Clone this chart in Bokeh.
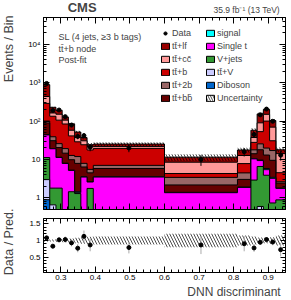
import numpy as np
from bokeh.plotting import figure
from bokeh.layouts import column, row
from bokeh.models import (ColumnDataSource, Label, Legend, LegendItem, FixedTicker,
                          LinearAxis, LogAxis, CustomJSTickFormatter, Range1d)
from bokeh.embed import file_html
from bokeh.resources import INLINE

# ---------------- data ----------------
edges = [0.25, 0.268, 0.286, 0.304, 0.322, 0.340, 0.358, 0.376, 0.394, 0.6,
         0.811, 0.85, 0.868, 0.886, 0.904, 0.922, 0.95]

diboson  = [0.9, 0.05, 0.05, 0.01, 0.02, 0.02, 0.01, 0.01, 0.01, 0.01, 0.01, 0.02, 0.03, 0.02, 0.01, 0.01]
ttv      = [2.1, 0.61, 0.05, 0.01, 0.03, 0.03, 0.01, 0.02, 0.01, 0.01, 0.01, 0.3, 0.57, 0.28, 0.02, 0.02]
vjets    = [8.3, 1.14, 1.7, 0.02, 1.4, 1.25, 0.02, 1.74, 0.03, 0.02, 0.03, 2.6, 6.0, 3.6, 0.71, 0.86]
single_t = [32.4, 17.3, 9.5, 7.86, 3.75, 0.07, 3.46, 0.83, 3.45, 1.33, 1.83, 7.5, 2.8, 1.55, 2.5, 0.88]
signal   = [0.6, 0.25, 0.2, 0.15, 0.1, 0.08, 0.06, 0.05, 0.05, 0.03, 0.04, 0.15, 0.3, 0.4, 0.2, 0.04]
ttbb     = [45.3, 11.6, 9.0, 6.6, 4.6, 6.5, 2.85, 1.85, 2.3, 0.78, 1.12, 3.6, 8.3, 7.25, 6.1, 0.63]
tt2b     = [11.0, 8.2, 5.4, 4.6, 2.9, 4.0, 1.55, 1.05, 1.2, 1.25, 1.45, 3.7, 7.6, 6.8, 7.6, 0.2]
ttb      = [189.0, 95.0, 80.3, 65.0, 28.5, 17.0, 16.3, 12.2, 12.5, 0.9, 3.35, 10.1, 27.7, 80.5, 13.7, 1.9]
ttcc     = [148.0, 29.0, 45.0, 22.0, 16.6, 8.4, 6.5, 3.8, 2.4, 4.2, 4.9, 9.5, 37.0, 50.0, 39.0, 9.7]
ttlf     = [452.0, 66.0, 40.0, 21.0, 27.2, 14.7, 6.6, 2.7, 3.4, 3.0, 5.0, 20.5, 64.0, 50.0, 34.0, 3.7]
data     = [960, 190, 195, 131, 79, 40, 42, 21, 20, 10, 16, 45, 146, 206, 99, 13]
rel_unc  = [0.03, 0.03, 0.04, 0.05, 0.06, 0.08, 0.10, 0.11, 0.12, 0.20, 0.15, 0.12, 0.09, 0.08, 0.10, 0.15]

x_ticks = [0.3, 0.4, 0.5, 0.6, 0.7, 0.8, 0.9]
ratio_ticks = [0.5, 1.0, 1.5]

layers = [
    ("Diboson", diboson, "#0066cc"),
    ("tt\u0304+V", ttv, "#ccccff"),
    ("V+jets", vjets, "#339933"),
    ("Single t", single_t, "#ff00ff"),
    ("signal", signal, "#00ffff"),
    ("tt\u0304+bb\u0304", ttbb, "#660000"),
    ("tt\u0304+2b", tt2b, "#996666"),
    ("tt\u0304+b", ttb, "#cc0000"),
    ("tt\u0304+cc\u0304", ttcc, "#ff9999"),
    ("tt\u0304+lf", ttlf, "#990000"),
]

# ---------------- geometry ----------------
FONT = "Liberation Sans"
X0, X1 = 0.25, 0.95
Y0, Y1 = 0.5, 5e4
R0, R1 = 0.04, 1.66
W, H = 291, 300
SW = 16                       # left strip width (axis titles)
HH = 15                       # header strip height
P1T = 2                       # main panel top border
P2B = 11                      # ratio panel bottom border
FW, MH, RH = 242, 192, 54     # frame width, main frame h, ratio frame h

e = np.array(edges)
centers = (e[:-1] + e[1:]) / 2
cum = np.cumsum(np.array([np.array(v, dtype=float) for _, v, _ in layers]), axis=0)
total = cum[-1]
d = np.array(data, dtype=float)
u = np.array(rel_unc)


def strip(width, height, xr, yr):
    s = figure(width=width, height=height, x_range=Range1d(*xr), y_range=Range1d(*yr),
               title=None, min_border=0, x_axis_location=None, y_axis_location=None,
               output_backend="svg", toolbar_location=None)
    s.outline_line_color = None
    s.grid.visible = False
    return s


# ---------------- main panel ----------------
p1 = figure(x_range=Range1d(X0, X1), y_range=Range1d(Y0, Y1), y_axis_type="log",
            title=None, frame_width=FW, frame_height=MH, min_border_left=27,
            min_border_right=6, min_border_top=P1T, min_border_bottom=4,
            output_backend="svg", toolbar_location=None, background_fill_color="white")
p1.grid.visible = False
p1.outline_line_color = "black"

floor = [1e-3] * len(edges)
for i in reversed(range(len(layers))):
    vals = cum[i]
    top = list(vals) + [vals[-1]]
    p1.varea_step(x=edges, y1=floor, y2=top, step_mode="after", fill_color=layers[i][2])
    p1.step(x=edges, y=top, mode="after", line_color="black", line_width=1)

p1.quad(left=e[:-1], right=e[1:], bottom=total * (1 - u), top=total * (1 + u),
        fill_alpha=0, line_alpha=0, hatch_pattern="\\", hatch_color="black",
        hatch_scale=6, hatch_weight=0.7)

derr = np.sqrt(d)
p1.segment(x0=centers, y0=np.maximum(d - derr, 1e-3), x1=centers, y1=d + derr,
           line_color="black", line_width=1)
data_r = p1.scatter(x=centers, y=d, size=4, color="black")


def proxy(col, hatch=False):
    src = ColumnDataSource(dict(l=[0.0], r=[0.0], t=[0.0], b=[0.0]))
    kw = dict(left="l", right="r", top="t", bottom="b", source=src,
              line_color="black", line_width=1)
    if hatch:
        return p1.quad(fill_color="white", hatch_pattern="\\", hatch_color="black",
                       hatch_scale=5, hatch_weight=0.7, **kw)
    return p1.quad(fill_color=col, **kw)


lay = {n: c for n, _, c in layers}
col1 = ["tt\u0304+lf", "tt\u0304+cc\u0304", "tt\u0304+b", "tt\u0304+2b", "tt\u0304+bb\u0304"]
col2 = ["signal", "Single t", "V+jets", "tt\u0304+V", "Diboson"]

items1 = [LegendItem(label="Data", renderers=[data_r])]
items1 += [LegendItem(label=n, renderers=[proxy(lay[n])]) for n in col1]
items2 = [LegendItem(label=n, renderers=[proxy(lay[n])]) for n in col2]
items2 += [LegendItem(label="Uncertainty", renderers=[proxy(None, hatch=True)])]

# legend location = (left, bottom) measured from frame's bottom-left
for items, lx in ((items1, 117), (items2, 162)):
    leg = Legend(items=items, location=(lx, 106), orientation="vertical",
                 glyph_width=10, glyph_height=8, label_height=8, label_standoff=2,
                 spacing=3, padding=0, margin=0, border_line_alpha=0,
                 background_fill_alpha=0, label_text_font=FONT,
                 label_text_font_size="9px")
    p1.add_layout(leg)

blank_fmt = CustomJSTickFormatter(code="return '';")


def style_axis(ax, labels=True, tin=6, tmin=3):
    ax.major_tick_in = tin
    ax.major_tick_out = 0
    ax.minor_tick_in = tmin
    ax.minor_tick_out = 0
    ax.axis_line_color = "black"
    ax.major_tick_line_color = "black"
    ax.minor_tick_line_color = "black"
    ax.major_label_text_font = FONT
    ax.major_label_text_color = "black"
    if labels:
        ax.major_label_text_font_size = "8px"
        ax.major_label_standoff = 3
    else:
        ax.formatter = blank_fmt
        ax.major_label_text_font_size = "1px"
        ax.major_label_standoff = 0


x_minor = [round(0.24 + 0.02 * i, 2) for i in range(37)]
y_major = [1, 10, 100, 1000, 10000]
y_minor = [k * 10.0 ** n for n in range(-1, 5) for k in range(2, 10)]

log_fmt = CustomJSTickFormatter(code="""
const e = Math.round(Math.log10(tick));
if (e == 0) return "1";
if (e == 1) return "10";
const sup = {"2": "\u00b2", "3": "\u00b3", "4": "\u2074", "5": "\u2075"};
return "10" + (sup[String(e)] || "");
""")

p1.xaxis.ticker = FixedTicker(ticks=x_ticks, minor_ticks=x_minor)
style_axis(p1.xaxis[0], labels=False)
p1.yaxis.ticker = FixedTicker(ticks=y_major, minor_ticks=y_minor)
p1.yaxis.formatter = log_fmt
style_axis(p1.yaxis[0], labels=True, tin=6, tmin=3)

top_ax = LinearAxis(ticker=FixedTicker(ticks=x_ticks, minor_ticks=x_minor))
style_axis(top_ax, labels=False)
p1.add_layout(top_ax, "above")
right_ax = LogAxis(ticker=FixedTicker(ticks=y_major, minor_ticks=y_minor))
style_axis(right_ax, labels=False, tin=6, tmin=3)
p1.add_layout(right_ax, "right")


def fx(px):
    return X0 + px / FW * (X1 - X0)


def fy(py):
    l0, l1 = np.log10(Y0), np.log10(Y1)
    return 10 ** (l1 - py / MH * (l1 - l0))


for txt, py in (("SL (4 jets, \u22653 b tags)", 19), ("tt\u0304+b node", 31), ("Post-fit", 42.5)):
    p1.add_layout(Label(x=fx(15), y=fy(py), text=txt, text_font=FONT,
                        text_font_size="9px", text_align="left",
                        text_baseline="alphabetic"))

# ---------------- ratio panel ----------------
p2 = figure(x_range=p1.x_range, y_range=Range1d(R0, R1), title=None,
            frame_width=FW, frame_height=RH, min_border_left=27, min_border_right=6,
            min_border_top=5, min_border_bottom=P2B, output_backend="svg",
            toolbar_location=None, background_fill_color="white")
p2.grid.visible = False
p2.outline_line_color = "black"

ratio = d / total
rerr = np.sqrt(d) / total
p2.quad(left=e[:-1], right=e[1:], bottom=1 - u, top=1 + u, fill_alpha=0, line_alpha=0,
        hatch_pattern="\\", hatch_color="black", hatch_scale=6, hatch_weight=0.7)
p2.segment(x0=centers, y0=ratio - rerr, x1=centers, y1=ratio + rerr,
           line_color="#aaaaaa", line_width=1)
p2.scatter(x=centers, y=ratio, size=4, color="black")

p2.xaxis.ticker = FixedTicker(ticks=x_ticks, minor_ticks=x_minor)
p2.xaxis.formatter = CustomJSTickFormatter(code="return tick.toFixed(1);")
style_axis(p2.xaxis[0], labels=True, tin=6, tmin=3)
p2.xaxis.major_label_standoff = 2
r_minor = [round(0.1 * i, 1) for i in range(1, 17)]
p2.yaxis.ticker = FixedTicker(ticks=ratio_ticks, minor_ticks=r_minor)
p2.yaxis.formatter = CustomJSTickFormatter(code="return String(tick);")
style_axis(p2.yaxis[0], labels=True, tin=5, tmin=3)

top2 = LinearAxis(ticker=FixedTicker(ticks=x_ticks, minor_ticks=x_minor))
style_axis(top2, labels=False, tin=5, tmin=3)
p2.add_layout(top2, "above")
right2 = LinearAxis(ticker=FixedTicker(ticks=ratio_ticks, minor_ticks=r_minor))
style_axis(right2, labels=False, tin=5, tmin=3)
p2.add_layout(right2, "right")

# ---------------- text strips (data coords = picture pixels) ----------------
header = strip(W - SW, HH, (SW, W), (HH, 0))
header.add_layout(Label(x=43.5, y=HH - 0.1, text="CMS", text_font=FONT,
                        text_font_style="bold", text_font_size="13px",
                        text_align="left", text_baseline="bottom"))
header.add_layout(Label(x=284.5, y=HH - 0.1, text="35.9 fb\u207b\u00b9 (13 TeV)",
                        text_font=FONT, text_font_size="8.5px", text_align="right",
                        text_baseline="bottom"))

FOOT_TOP = HH + (P1T + MH + 4) + (5 + RH + P2B)
footer = strip(W - SW, H - FOOT_TOP, (SW, W), (H, FOOT_TOP))
footer.add_layout(Label(x=285.5, y=H - 1.5, text="DNN discriminant", text_font=FONT,
                        text_font_size="12px", text_align="right",
                        text_baseline="bottom"))

left = strip(SW, H, (0, SW), (H, 0))
left.add_layout(Label(x=8.3, y=15, text="Events / Bin", angle=np.pi / 2,
                      text_font=FONT, text_font_size="12.5px", text_align="right",
                      text_baseline="middle"))
left.add_layout(Label(x=8.3, y=208, text="Data / Pred.", angle=np.pi / 2,
                      text_font=FONT, text_font_size="12.5px", text_align="right",
                      text_baseline="middle"))

layout = row(left, column(header, p1, p2, footer, spacing=0), spacing=0)
open("out.html", "w").write(file_html(layout, INLINE))
